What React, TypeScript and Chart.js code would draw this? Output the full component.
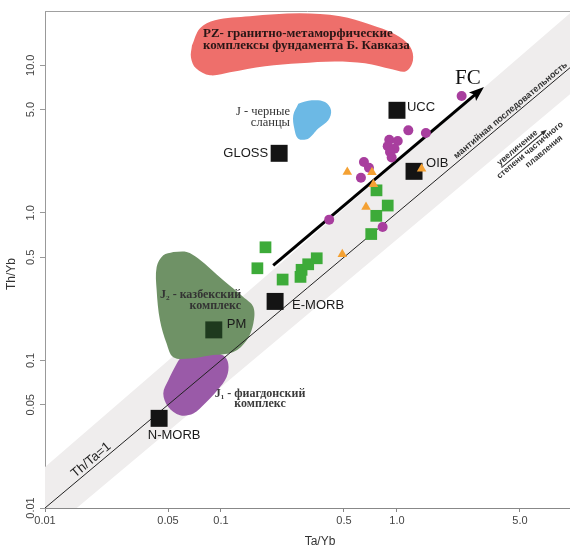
import React, { useEffect, useRef } from 'react';
import { Chart, registerables } from 'chart.js';

Chart.register(...registerables);

// ---- axis ticks ----
const xTickValues = [0.01, 0.05, 0.1, 0.5, 1, 5];
const xTickLabels = ['0.01', '0.05', '0.1', '0.5', '1.0', '5.0'];
const yTickValues = [0.01, 0.05, 0.1, 0.5, 1, 5, 10];
const yTickLabels = ['0.01', '0.05', '0.1', '0.5', '1.0', '5.0', '10.0'];

// ---- reference compositions ----
const refNames = ['UCC', 'GLOSS', 'OIB', 'E-MORB', 'PM', 'N-MORB'];
const refTaYb = [1.0, 0.214, 1.25, 0.203, 0.091, 0.0445];
const refThYb = [4.95, 2.53, 1.91, 0.251, 0.161, 0.0405];

// ---- samples ----
const greenTaYb = [0.765, 0.886, 0.763, 0.714, 0.179, 0.161, 0.224, 0.283, 0.287, 0.313, 0.35];
const greenThYb = [1.42, 1.12, 0.954, 0.718, 0.584, 0.421, 0.353, 0.368, 0.411, 0.448, 0.492];

const purpleTaYb = [2.33, 1.16, 1.46, 0.904, 1.01, 0.886, 0.968, 0.913, 0.933, 0.649, 0.693, 0.624, 0.412, 0.829];
const purpleThYb = [6.18, 3.62, 3.47, 3.13, 3.07, 2.83, 2.72, 2.58, 2.37, 2.21, 2.02, 1.73, 0.899, 0.802];

const orangeTaYb = [0.522, 0.735, 0.721, 0.667, 0.489, 1.38];
const orangeThYb = [1.89, 1.56, 1.88, 1.095, 0.523, 1.99];

// ---- lines ----
const fcTaYb = [0.198, 2.91];
const fcThYb = [0.44, 6.63];
const unitTaYb = [0.005, 12];
const unitThYb = [0.005, 12];

// ---- fields ----
const pzTaYb = [0.0684, 0.076, 0.0924, 0.146, 0.281, 0.475, 0.703, 0.974, 1.186, 1.233, 1.125, 0.937, 0.658, 0.444, 0.281, 0.178, 0.1125, 0.0866, 0.0721, 0.0675];
const pzThYb = [13.6, 17.8, 20.2, 21.5, 22.5, 21.5, 18.9, 16.2, 13.4, 10.8, 9.09, 9.38, 10.3, 10.6, 10.3, 9.83, 8.95, 8.54, 9.53, 11.3];

const shaleTaYb = [0.275, 0.328, 0.39, 0.422, 0.407, 0.357, 0.313, 0.275, 0.261, 0.2575];
const shaleThYb = [5.49, 5.78, 5.63, 4.95, 4.23, 3.72, 3.18, 3.18, 3.72, 4.58];

const j2TaYb = [0.0536, 0.0638, 0.0743, 0.1031, 0.1338, 0.1527, 0.1527, 0.14, 0.1174, 0.0866, 0.0667, 0.0536, 0.0491, 0.045, 0.0431, 0.0431, 0.047];
const j2ThYb = [0.5425, 0.5425, 0.49, 0.349, 0.269, 0.23, 0.178, 0.137, 0.114, 0.108, 0.103, 0.105, 0.13, 0.187, 0.2985, 0.429, 0.515];

const j1TaYb = [0.0611, 0.0829, 0.1031, 0.11, 0.1077, 0.0954, 0.0811, 0.0696, 0.0585, 0.0502, 0.047, 0.0502, 0.056];
const j1ThYb = [0.111, 0.114, 0.108, 0.0951, 0.0772, 0.0627, 0.051, 0.0436, 0.0425, 0.0483, 0.0596, 0.0733, 0.0951];

// MORB-OIB mantle array band
const bandTaYb = [0.005, 20, 20, 0.005];
const bandThYb = [0.0093, 47.8, 13.2, 0.0033];

// ---- text annotations ----
const pzLines = ['PZ- гранитно-метаморфические', 'комплексы фундамента Б. Кавказа'];
const shaleLines = ['J - черные', 'сланцы'];
const j2Lines = ['J₂ - казбекский', 'комплекс'];
const j1Lines = ['J₁ - фиагдонский', 'комплекс'];
const increaseLines = ['увеличение', 'степени частичного', 'плавления'];

const SANS = '"Liberation Sans", Arial, sans-serif';
const SERIF = '"Liberation Serif", "Times New Roman", serif';

const pts = (xs: number[], ys: number[]) => xs.map((x, i) => ({ x, y: ys[i] }));
const closed = (xs: number[], ys: number[]) => {
  const p = pts(xs, ys);
  return [...p, p[0]];
};

const refOffsets: Record<string, [number, number, CanvasTextAlign]> = {
  UCC: [10, -3, 'left'],
  GLOSS: [-11, 0, 'right'],
  OIB: [12, -8, 'left'],
  'E-MORB': [17, 4, 'left'],
  PM: [13, -5, 'left'],
  'N-MORB': [15, 17, 'center'],
};

const decorPlugin = {
  id: 'decor',
  afterDatasetsDraw(chart: any) {
    const { ctx } = chart;
    const xs = chart.scales.x;
    const ys = chart.scales.y;
    const px = (v: number) => xs.getPixelForValue(v);
    const py = (v: number) => ys.getPixelForValue(v);
    const lineAngle = Math.atan2(py(1) - py(0.1), px(1) - px(0.1));

    // FC arrow head
    {
      const x0 = px(fcTaYb[0]), y0 = py(fcThYb[0]);
      const x1 = px(fcTaYb[1]), y1 = py(fcThYb[1]);
      const a = Math.atan2(y1 - y0, x1 - x0);
      ctx.save();
      ctx.translate(x1, y1);
      ctx.rotate(a);
      ctx.beginPath();
      ctx.moveTo(7, 0);
      ctx.lineTo(-8, -5.5);
      ctx.lineTo(-5, 0);
      ctx.lineTo(-8, 5.5);
      ctx.closePath();
      ctx.fillStyle = '#000';
      ctx.fill();
      ctx.restore();
    }

    ctx.save();
    ctx.font = `13px ${SANS}`;
    ctx.fillStyle = '#1a1a1a';
    ctx.textBaseline = 'middle';
    refNames.forEach((n, i) => {
      const [dx, dy, al] = refOffsets[n];
      ctx.textAlign = al;
      ctx.fillText(n, px(refTaYb[i]) + dx, py(refThYb[i]) + dy);
    });

    const block = (lines: string[], x: number, y: number, lh: number, font: string, color: string, align: CanvasTextAlign) => {
      ctx.font = font;
      ctx.fillStyle = color;
      ctx.textAlign = align;
      ctx.textBaseline = 'middle';
      lines.forEach((l, i) => ctx.fillText(l, px(x), py(y) + i * lh));
    };
    block(pzLines, 0.079, 16.37, 12, `bold 13px ${SERIF}`, '#2a1616', 'left');
    block(shaleLines, 0.2466, 4.87, 11.5, `12.5px ${SERIF}`, '#333', 'right');
    block(j2Lines, 0.13, 0.276, 11, `bold 12px ${SERIF}`, '#333', 'right');
    block(j1Lines, 0.1666, 0.0596, 10, `bold 12px ${SERIF}`, '#3a3a3a', 'center');

    ctx.font = `21px ${SERIF}`;
    ctx.fillStyle = '#111';
    ctx.textAlign = 'center';
    ctx.fillText('FC', px(2.53), py(8.15));

    const rotText = (t: string, x: number, y: number, off: number, font: string, color: string) => {
      ctx.save();
      ctx.translate(px(x), py(y));
      ctx.rotate(lineAngle);
      ctx.font = font;
      ctx.fillStyle = color;
      ctx.textAlign = 'center';
      ctx.textBaseline = 'middle';
      ctx.fillText(t, 0, off);
      ctx.restore();
    };
    rotText('Th/Ta=1', 0.0194, 0.0194, -7, `13px ${SANS}`, '#222');
    rotText('мантийная последовательность', 4.63, 4.63, -5.5, `600 9px ${SANS}`, '#333');

    ctx.save();
    ctx.translate(px(5.7), py(2.65));
    ctx.rotate(lineAngle);
    ctx.font = `600 8.5px ${SANS}`;
    ctx.fillStyle = '#333';
    ctx.textAlign = 'center';
    ctx.textBaseline = 'middle';
    const offs = [[-8, -10], [0, 0], [10, 10]];
    increaseLines.forEach((l, i) => ctx.fillText(l, offs[i][0], offs[i][1]));
    const w = ctx.measureText(increaseLines[0]).width;
    ctx.strokeStyle = '#333';
    ctx.lineWidth = 1;
    ctx.beginPath();
    ctx.moveTo(-8 - w / 2, -5);
    ctx.lineTo(-8 + w / 2 + 6, -5);
    ctx.stroke();
    ctx.beginPath();
    ctx.moveTo(-8 + w / 2 + 9, -5);
    ctx.lineTo(-8 + w / 2 + 3, -7.5);
    ctx.lineTo(-8 + w / 2 + 3, -2.5);
    ctx.closePath();
    ctx.fill();
    ctx.restore();

    ctx.restore();
  },
  afterDraw(chart: any) {
    const { ctx, chartArea: a } = chart;
    const ys = chart.scales.y;
    ctx.save();
    ctx.strokeStyle = '#a0a0a0';
    ctx.lineWidth = 1;
    ctx.beginPath();
    ctx.moveTo(a.left, a.top + 0.5);
    ctx.lineTo(a.right, a.top + 0.5);
    ctx.stroke();

    ctx.font = `11px ${SANS}`;
    ctx.fillStyle = '#444';
    ctx.textAlign = 'center';
    ctx.textBaseline = 'middle';
    yTickValues.forEach((v, i) => {
      ctx.save();
      ctx.translate(31, ys.getPixelForValue(v));
      ctx.rotate(-Math.PI / 2);
      ctx.fillText(yTickLabels[i], 0, 0);
      ctx.restore();
    });

    ctx.font = `12px ${SANS}`;
    ctx.fillStyle = '#333';
    ctx.save();
    ctx.translate(12, 274);
    ctx.rotate(-Math.PI / 2);
    ctx.fillText('Th/Yb', 0, 0);
    ctx.restore();
    ctx.fillText('Ta/Yb', 320, 542);
    ctx.restore();
  },
};

export default function App() {
  const ref = useRef<HTMLCanvasElement>(null);

  useEffect(() => {
    if (!ref.current) return;
    const poly = (xs: number[], ys: number[], color: string) => ({
      data: closed(xs, ys),
      showLine: true,
      fill: 'shape',
      backgroundColor: color,
      borderColor: color,
      borderWidth: 0,
      pointRadius: 0,
      tension: 0.35,
    });
    const chart = new Chart(ref.current, {
      type: 'line',
      data: {
        datasets: [
          {
            data: pts(orangeTaYb, orangeThYb),
            showLine: false,
            pointStyle: 'triangle',
            pointRadius: 5.5,
            pointBorderWidth: 0,
            backgroundColor: '#f4a133',
            borderColor: '#f4a133',
          },
          {
            data: pts(purpleTaYb, purpleThYb),
            showLine: false,
            pointStyle: 'circle',
            pointRadius: 5,
            pointBorderWidth: 0,
            backgroundColor: '#a83e9e',
            borderColor: '#a83e9e',
          },
          {
            data: pts(greenTaYb, greenThYb),
            showLine: false,
            pointStyle: 'rect',
            pointRadius: 8.3,
            pointBorderWidth: 0,
            backgroundColor: '#3dab39',
            borderColor: '#3dab39',
          },
          {
            data: pts(refTaYb, refThYb),
            showLine: false,
            pointStyle: 'rect',
            pointRadius: 12,
            pointBorderWidth: 0,
            backgroundColor: refNames.map((n) => (n === 'PM' ? '#1e3a1e' : '#141414')),
            borderColor: '#141414',
          },
          {
            data: pts(fcTaYb, fcThYb),
            showLine: true,
            borderColor: '#000',
            borderWidth: 3,
            pointRadius: 0,
          },
          {
            data: pts(unitTaYb, unitThYb),
            showLine: true,
            borderColor: '#222',
            borderWidth: 1,
            pointRadius: 0,
          },
          poly(pzTaYb, pzThYb, '#ee6f6b'),
          poly(shaleTaYb, shaleThYb, '#6cb9e5'),
          poly(j2TaYb, j2ThYb, '#6f9266'),
          poly(j1TaYb, j1ThYb, '#9a5aa8'),
          {
            data: pts(bandTaYb, bandThYb),
            showLine: true,
            fill: 'shape',
            backgroundColor: '#efeded',
            borderWidth: 0,
            pointRadius: 0,
            tension: 0,
          },
        ] as any,
      },
      options: {
        responsive: false,
        animation: false,
        events: [],
        layout: { autoPadding: false, padding: { top: 11, left: 0, right: 0, bottom: 0 } },
        plugins: {
          legend: { display: false },
          tooltip: { enabled: false },
        },
        scales: {
          x: {
            type: 'logarithmic',
            min: 0.01,
            max: 9.62,
            bounds: 'data',
            afterBuildTicks: (s: any) => {
              s.ticks = xTickValues.map((v) => ({ value: v }));
            },
            afterFit: (s: any) => {
              s.height = 40;
            },
            grid: { display: true, drawOnChartArea: false, drawTicks: true, tickLength: 4, color: '#888', tickColor: '#888' },
            border: { display: true, color: '#888', width: 1 },
            ticks: {
              autoSkip: false,
              minRotation: 0,
              maxRotation: 0,
              padding: 2,
              color: '#444',
              font: { family: SANS, size: 11 },
              callback: (_v: any, i: number) => xTickLabels[i],
            },
          },
          y: {
            type: 'logarithmic',
            min: 0.01,
            max: 23.3,
            bounds: 'data',
            afterBuildTicks: (s: any) => {
              s.ticks = yTickValues.map((v) => ({ value: v }));
            },
            afterFit: (s: any) => {
              s.width = 45;
            },
            grid: { display: true, drawOnChartArea: false, drawTicks: true, tickLength: 5, color: '#999', tickColor: '#999' },
            border: { display: true, color: '#999', width: 1 },
            ticks: { display: false },
          },
        } as any,
      },
      plugins: [decorPlugin],
    } as any);
    return () => chart.destroy();
  }, []);

  return (
    <div style={{ position: 'fixed', left: 0, top: 0, width: 570, height: 548, background: '#fff' }}>
      <canvas ref={ref} width={570} height={548} style={{ display: 'block', width: 570, height: 548 }} />
    </div>
  );
}
